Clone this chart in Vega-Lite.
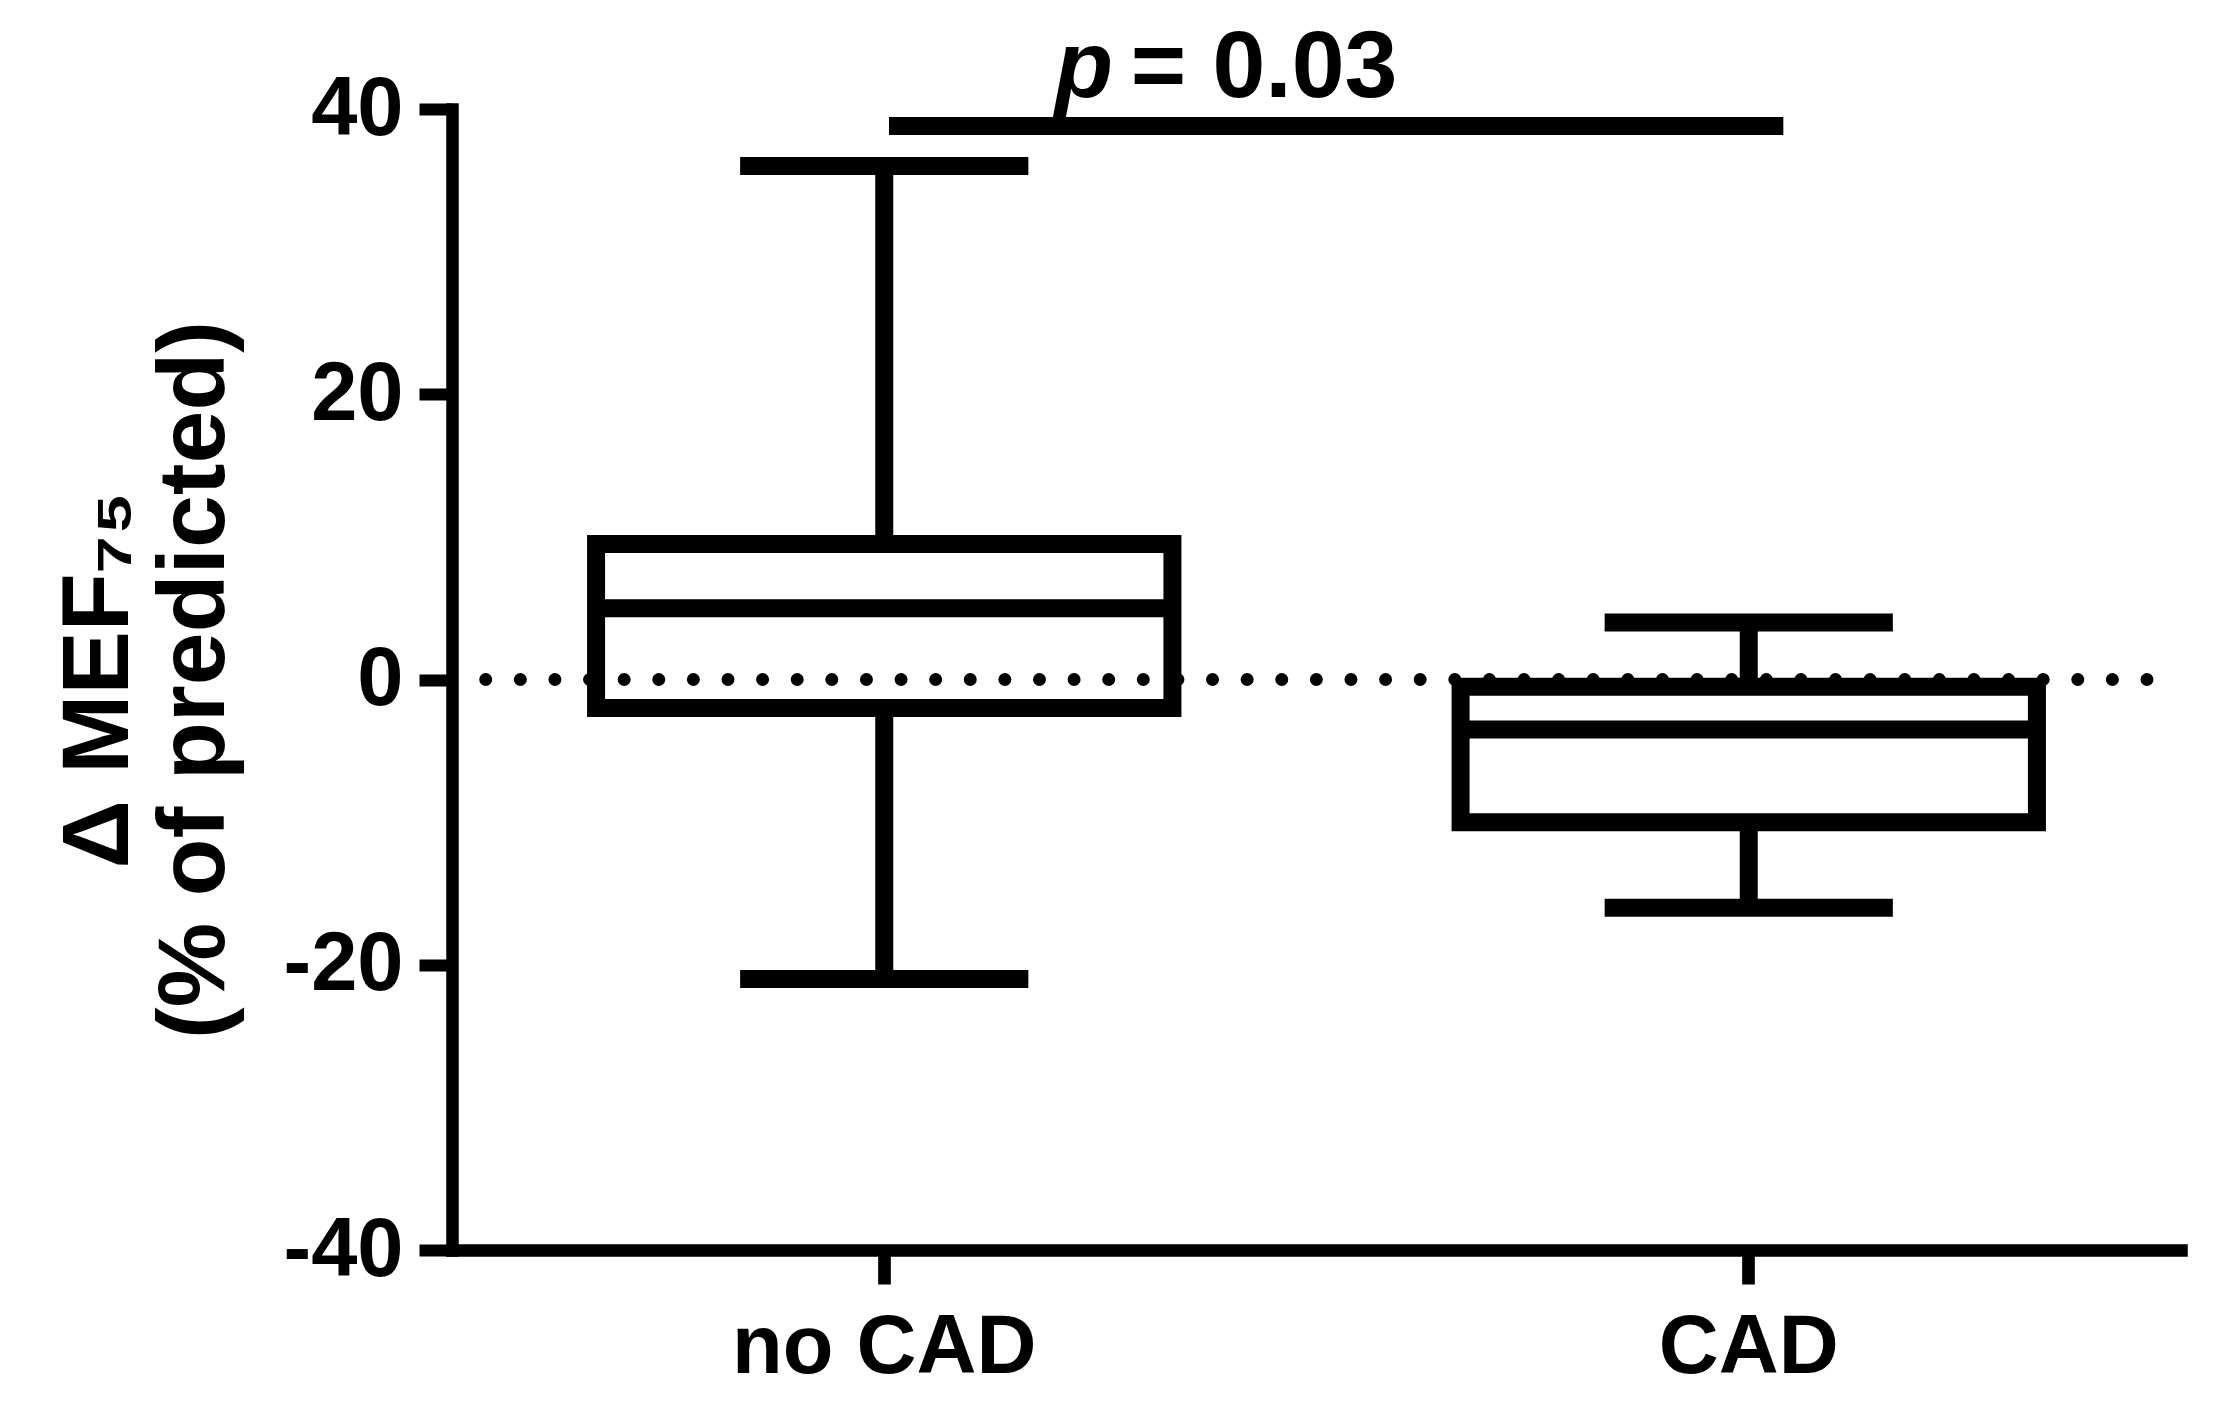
{
  "$schema": "https://vega.github.io/schema/vega-lite/v6.json",
  "width": 1729,
  "height": 1141,
  "autosize": "none",
  "padding": {"left": 452, "top": 109, "right": 34, "bottom": 165},
  "background": "white",
  "config": {"view": {"stroke": null}},
  "datasets": {
    "boxes": [
      {"group": "no CAD", "lower": -21, "q1": -2, "median": 5, "q3": 9.5, "upper": 36},
      {"group": "CAD", "lower": -16, "q1": -10, "median": -3.5, "q3": -0.5, "upper": 4}
    ],
    "zero": [{"ref": 0}],
    "bracket": [{"from": "no CAD", "to": "CAD", "y": 38.8}],
    "ptext": [{"grp": "no CAD", "label": "p", "y": 40.87}],
    "vtext": [{"grp": "no CAD", "label": "= 0.03", "y": 40.87}]
  },
  "layer": [
    {
      "data": {"name": "boxes"},
      "mark": {"type": "rule", "color": "black", "strokeWidth": 18, "strokeCap": "butt"},
      "encoding": {
        "x": {
          "field": "group", "type": "nominal", "bandPosition": 0.5,
          "scale": {"type": "band", "domain": ["no CAD", "CAD"], "paddingInner": 0, "paddingOuter": 0},
          "axis": {
            "title": null, "grid": false, "bandPosition": 0.5,
            "domainColor": "black", "domainWidth": 12.5, "domainCap": "square",
            "tickColor": "black", "tickWidth": 12.7, "tickSize": 34, "tickCap": "butt",
            "labelFont": "Liberation Sans", "labelFontWeight": "bold", "labelFontSize": 83,
            "labelColor": "black", "labelPadding": 22, "labelAngle": 0, "labelLimit": 0
          }
        },
        "y": {
          "field": "lower", "type": "quantitative",
          "scale": {"domain": [-40, 40], "nice": false, "zero": false},
          "axis": {
            "values": [-40, -20, 0, 20, 40], "labelExpr": "'' + datum.value", "grid": false,
            "domainColor": "black", "domainWidth": 12.5, "domainCap": "square",
            "tickColor": "black", "tickWidth": 12, "tickSize": 33, "tickCap": "butt",
            "labelFont": "Liberation Sans", "labelFontWeight": "bold", "labelFontSize": 83,
            "labelColor": "black", "labelPadding": 16, "labelLimit": 0,
            "title": ["Δ MEF₇₅", "(% of predicted)"],
            "titleFont": "Liberation Sans", "titleFontWeight": "bold", "titleFontSize": 95,
            "titleColor": "black", "titleLineHeight": 96, "titlePadding": 40, "titleLimit": 0
          }
        },
        "y2": {"field": "upper"}
      }
    },
    {
      "data": {"name": "boxes"},
      "mark": {"type": "bar", "fill": "white", "stroke": "black", "strokeWidth": 18, "width": {"band": 0.6667}},
      "encoding": {
        "x": {"field": "group", "type": "nominal", "scale": {"type": "band", "domain": ["no CAD", "CAD"], "paddingInner": 0, "paddingOuter": 0}},
        "y": {"field": "q1", "type": "quantitative", "scale": {"domain": [-40, 40], "nice": false, "zero": false}},
        "y2": {"field": "q3"}
      }
    },
    {
      "data": {"name": "zero"},
      "mark": {"type": "rule", "color": "black", "strokeWidth": 13, "strokeCap": "round", "strokeDash": [0.01, 34.6]},
      "encoding": {
        "x": {"datum": "no CAD", "type": "nominal", "bandPosition": 0.039, "scale": {"type": "band", "domain": ["no CAD", "CAD"], "paddingInner": 0, "paddingOuter": 0}},
        "x2": {"datum": "CAD", "bandPosition": 1},
        "y": {"field": "ref", "type": "quantitative", "scale": {"domain": [-40, 40], "nice": false, "zero": false}}
      }
    },
    {
      "data": {"name": "boxes"},
      "mark": {"type": "rule", "color": "black", "strokeWidth": 18, "strokeCap": "butt"},
      "encoding": {
        "x": {"field": "group", "type": "nominal", "bandPosition": 0.1667, "scale": {"type": "band", "domain": ["no CAD", "CAD"], "paddingInner": 0, "paddingOuter": 0}},
        "x2": {"field": "group", "bandPosition": 0.8333},
        "y": {"field": "median", "type": "quantitative", "scale": {"domain": [-40, 40], "nice": false, "zero": false}}
      }
    },
    {
      "data": {"name": "boxes"},
      "mark": {"type": "rule", "color": "black", "strokeWidth": 18, "strokeCap": "butt"},
      "encoding": {
        "x": {"field": "group", "type": "nominal", "bandPosition": 0.3333, "scale": {"type": "band", "domain": ["no CAD", "CAD"], "paddingInner": 0, "paddingOuter": 0}},
        "x2": {"field": "group", "bandPosition": 0.6667},
        "y": {"field": "upper", "type": "quantitative", "scale": {"domain": [-40, 40], "nice": false, "zero": false}}
      }
    },
    {
      "data": {"name": "boxes"},
      "mark": {"type": "rule", "color": "black", "strokeWidth": 18, "strokeCap": "butt"},
      "encoding": {
        "x": {"field": "group", "type": "nominal", "bandPosition": 0.3333, "scale": {"type": "band", "domain": ["no CAD", "CAD"], "paddingInner": 0, "paddingOuter": 0}},
        "x2": {"field": "group", "bandPosition": 0.6667},
        "y": {"field": "lower", "type": "quantitative", "scale": {"domain": [-40, 40], "nice": false, "zero": false}}
      }
    },
    {
      "data": {"name": "bracket"},
      "mark": {"type": "rule", "color": "black", "strokeWidth": 18, "strokeCap": "butt"},
      "encoding": {
        "x": {"field": "from", "type": "nominal", "bandPosition": 0.5055, "scale": {"type": "band", "domain": ["no CAD", "CAD"], "paddingInner": 0, "paddingOuter": 0}},
        "x2": {"field": "to", "bandPosition": 0.54},
        "y": {"field": "y", "type": "quantitative", "scale": {"domain": [-40, 40], "nice": false, "zero": false}}
      }
    },
    {
      "data": {"name": "ptext"},
      "mark": {"type": "text", "font": "Liberation Sans", "fontWeight": "bold", "fontStyle": "italic", "fontSize": 95, "align": "left", "baseline": "alphabetic", "color": "black"},
      "encoding": {
        "x": {"field": "grp", "type": "nominal", "bandPosition": 0.6975, "scale": {"type": "band", "domain": ["no CAD", "CAD"], "paddingInner": 0, "paddingOuter": 0}},
        "y": {"field": "y", "type": "quantitative", "scale": {"domain": [-40, 40], "nice": false, "zero": false}},
        "text": {"field": "label"}
      }
    },
    {
      "data": {"name": "vtext"},
      "mark": {"type": "text", "font": "Liberation Sans", "fontWeight": "bold", "fontSize": 95, "align": "left", "baseline": "alphabetic", "color": "black"},
      "encoding": {
        "x": {"field": "grp", "type": "nominal", "bandPosition": 0.785, "scale": {"type": "band", "domain": ["no CAD", "CAD"], "paddingInner": 0, "paddingOuter": 0}},
        "y": {"field": "y", "type": "quantitative", "scale": {"domain": [-40, 40], "nice": false, "zero": false}},
        "text": {"field": "label"}
      }
    }
  ]
}
